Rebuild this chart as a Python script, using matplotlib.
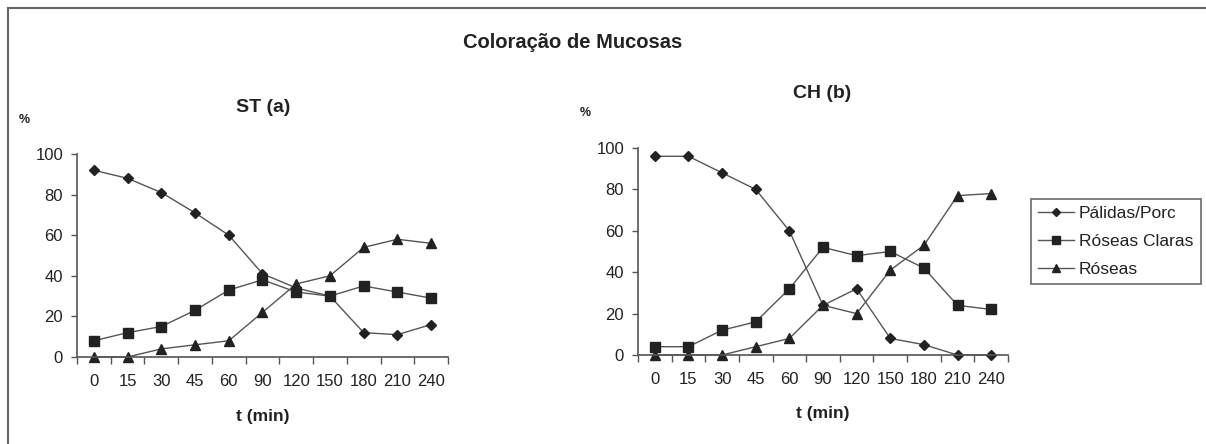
import matplotlib.pyplot as plt
from matplotlib.lines import Line2D

plt.rcParams['font.family'] = ['Liberation Sans', 'DejaVu Sans']

# tempo (min), eixo categórico
tempos = ['0', '15', '30', '45', '60', '90', '120', '150', '180', '210', '240']

# ST (a)
st_palidas = [92, 88, 81, 71, 60, 41, 34, 30, 12, 11, 16]
st_claras = [8, 12, 15, 23, 33, 38, 32, 30, 35, 32, 29]
st_roseas = [0, 0, 4, 6, 8, 22, 36, 40, 54, 58, 56]

# CH (b)
ch_palidas = [96, 96, 88, 80, 60, 24, 32, 8, 5, 0, 0]
ch_claras = [4, 4, 12, 16, 32, 52, 48, 50, 42, 24, 22]
ch_roseas = [0, 0, 0, 4, 8, 24, 20, 41, 53, 77, 78]

nomes = ['Pálidas/Porc', 'Róseas Claras', 'Róseas']
marcadores = [('D', 5), ('s', 6.5), ('^', 7)]
cor_linha = '#555555'
cor_marca = '#222222'
cor_texto = '#222222'

fig = plt.figure(figsize=(12.06, 4.44), dpi=100)

# moldura (só topo e esquerda visíveis)
fig.add_artist(Line2D([8/1206, 8/1206], [0, 1 - 8/444], color='#666666', lw=1.5))
fig.add_artist(Line2D([8/1206, 1], [1 - 8/444, 1 - 8/444], color='#666666', lw=1.5))

fig.text(573/1206, 1 - 43/444, 'Coloração de Mucosas', ha='center', va='center',
         fontsize=14.5, fontweight='bold', color=cor_texto)


def painel(rect, series, titulo, pos_titulo, pos_pct, pos_xlabel):
    ax = fig.add_axes(rect)
    x = list(range(len(tempos)))
    for vals, (m, ms) in zip(series, marcadores):
        ax.plot(x, vals, color=cor_linha, lw=1, marker=m, ms=ms,
                mfc=cor_marca, mec=cor_marca)
    ax.set_xlim(-0.5, len(tempos) - 0.5)
    ax.set_ylim(0, 100)
    ax.set_yticks([0, 20, 40, 60, 80, 100])
    ax.set_xticks([i - 0.5 for i in range(len(tempos) + 1)])
    ax.set_xticklabels([])
    ax.set_xticks(x, minor=True)
    ax.set_xticklabels(tempos, minor=True)
    ax.tick_params(axis='x', which='minor', length=0, pad=12, labelsize=12,
                   colors=cor_texto)
    ax.tick_params(axis='x', which='major', length=5, width=1, color=cor_linha)
    ax.tick_params(axis='y', length=4, width=1, color=cor_linha, labelsize=12,
                   labelcolor=cor_texto, pad=6)
    for s in ['top', 'right']:
        ax.spines[s].set_visible(False)
    for s in ['left', 'bottom']:
        ax.spines[s].set_color(cor_linha)
        ax.spines[s].set_linewidth(1.2)
    for ln in ax.lines:
        ln.set_clip_on(False)
    fig.text(pos_titulo[0]/1206, 1 - pos_titulo[1]/444, titulo, ha='center',
             va='center', fontsize=14, fontweight='bold', color=cor_texto)
    fig.text(pos_pct[0]/1206, 1 - pos_pct[1]/444, '%', ha='center', va='center',
             fontsize=9, fontweight='bold', color=cor_texto)
    fig.text(pos_xlabel[0]/1206, 1 - pos_xlabel[1]/444, 't (min)', ha='center',
             va='center', fontsize=12.5, fontweight='bold', color=cor_texto)
    return ax


painel([77/1206, (444 - 357)/444, 371/1206, 203/444],
       [st_palidas, st_claras, st_roseas], 'ST (a)', (263, 107), (24, 120), (263, 416))
painel([638/1206, (444 - 355)/444, 370/1206, 207/444],
       [ch_palidas, ch_claras, ch_roseas], 'CH (b)', (822, 93), (585, 113), (823, 413))

handles = [Line2D([], [], color=cor_linha, lw=1, marker=m, ms=ms * 0.8,
                  mfc=cor_marca, mec=cor_marca) for m, ms in marcadores]
leg = fig.legend(handles, nomes, loc='upper left',
                 bbox_to_anchor=(1031/1206, 1 - 199/444), fontsize=12.5,
                 frameon=True, fancybox=False, handlelength=2.05,
                 handletextpad=0.3, borderpad=0.42, labelspacing=0.72,
                 borderaxespad=0)
leg.get_frame().set_edgecolor('#444444')
leg.get_frame().set_linewidth(1.2)
for t in leg.get_texts():
    t.set_color(cor_texto)

fig.savefig('out.png', dpi=100)
